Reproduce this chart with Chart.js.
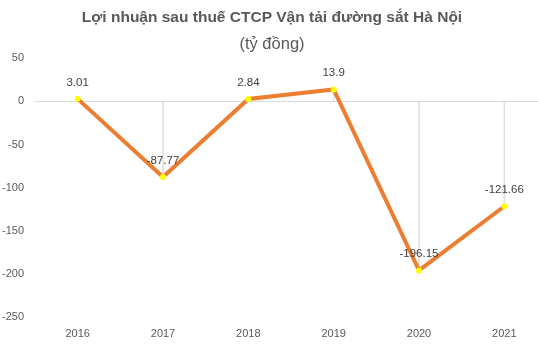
<!DOCTYPE html>
<html><head><meta charset="utf-8">
<script src="https://cdn.jsdelivr.net/npm/chart.js@4"></script>
<style>
html,body{margin:0;padding:0;overflow:hidden;background:#fff;width:538px;height:352px}
#wrap{position:absolute;left:-7px;top:0;width:558px;height:352px}
</style>
</head><body><div id="wrap"><canvas id="c"></canvas></div>
<script>
const years = ['2016','2017','2018','2019','2020','2021'];
const profit = [3.01, -87.77, 2.84, 13.9, -196.15, -121.66];
const profitLabels = ['3.01', '-87.77', '2.84', '13.9', '-196.15', '-121.66'];
const yMin = -250, yMax = 50, yStep = 50;
const titleText = 'Lợi nhuận sau thuế CTCP Vận tải đường sắt Hà Nội';
const unitText = '(tỷ đồng)';

const FONT = "'Liberation Sans', Arial, sans-serif";

const labelPlugin = {
  id: 'pointLabels',
  afterDatasetsDraw(chart) {
    const meta = chart.getDatasetMeta(0);
    const ctx = chart.ctx;
    ctx.save();
    ctx.font = '11.5px ' + FONT;
    ctx.fillStyle = '#404040';
    ctx.textAlign = 'center';
    ctx.textBaseline = 'middle';
    meta.data.forEach((pt, i) => {
      ctx.fillText(profitLabels[i], pt.x, pt.y - 16.5);
    });
    ctx.restore();
  }
};

new Chart(document.getElementById('c'), {
  data: {
    labels: years,
    datasets: [
      {
        type: 'line',
        data: profit,
        order: 0,
        borderColor: '#ED7D31',
        borderWidth: 4,
        tension: 0,
        pointRadius: 3,
        pointBorderWidth: 0,
        pointBackgroundColor: '#FFFF00',
        pointBorderColor: '#FFFF00'
      },
      {
        type: 'bar',
        data: profit.map(v => [0, v]),
        order: 1,
        backgroundColor: '#e0e0e0',
        barThickness: 1
      }
    ]
  },
  options: {
    responsive: true,
    maintainAspectRatio: false,
    animation: false,
    layout: { padding: { left: 0, right: 0, top: 0, bottom: 0 } },
    plugins: {
      legend: { display: false },
      tooltip: { enabled: false },
      title: {
        display: true,
        text: titleText,
        color: '#595959',
        font: { family: FONT, size: 15.5, weight: 'bold', lineHeight: 1.2 },
        padding: { top: 8, bottom: 0 }
      },
      subtitle: {
        display: true,
        text: unitText,
        color: '#595959',
        font: { family: FONT, size: 16.5, weight: 'normal', lineHeight: 1.2 },
        padding: { top: 8, bottom: 4 }
      }
    },
    scales: {
      x: {
        type: 'category',
        offset: true,
        grid: { display: false, drawTicks: false },
        border: { display: false },
        ticks: { color: '#595959', font: { family: FONT, size: 11 }, padding: 11, maxRotation: 0 }
      },
      y: {
        type: 'linear',
        min: yMin,
        max: yMax,
        ticks: { stepSize: yStep, color: '#595959', font: { family: FONT, size: 11 }, padding: 11 },
        grid: {
          drawTicks: false,
          color: c => (c.tick && c.tick.value === 0) ? '#d9d9d9' : 'rgba(0,0,0,0)',
          lineWidth: 1
        },
        border: { display: false },
        afterFit(scale) { scale.width = 42; }
      }
    }
  },
  plugins: [labelPlugin]
});
</script>
</body></html>
